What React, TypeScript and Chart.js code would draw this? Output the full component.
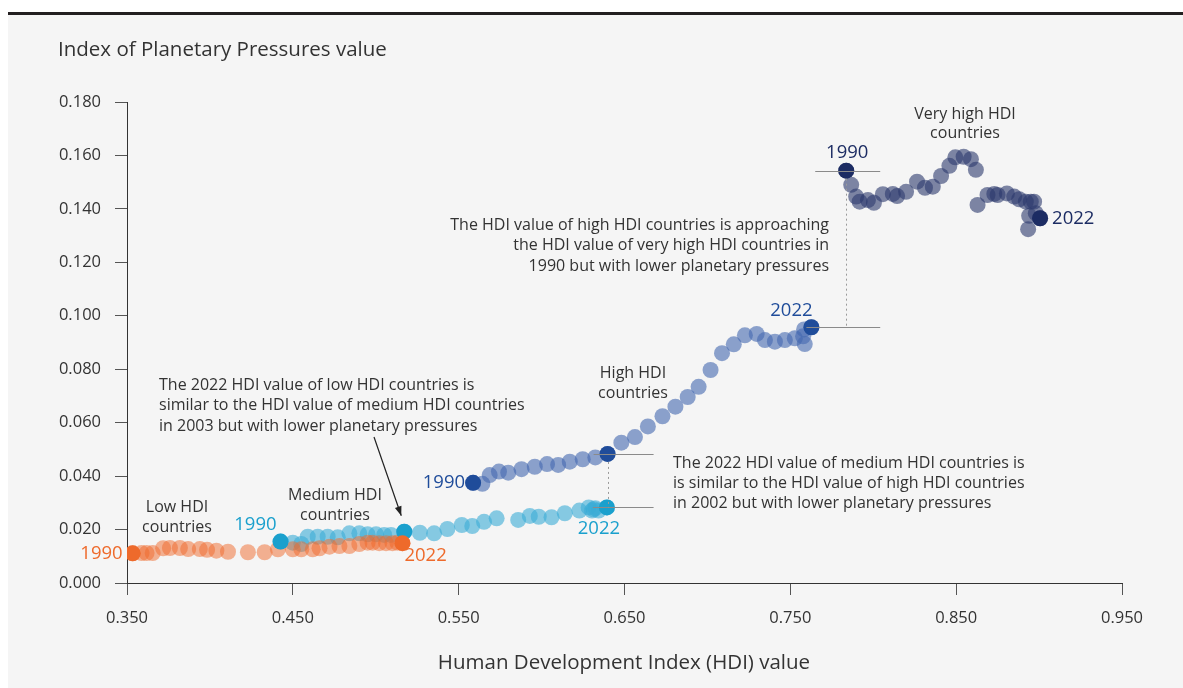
import React, { useEffect, useRef } from "react";
import { Chart, registerables } from "chart.js";

Chart.register(...registerables);

// ---------- Data (HDI value, Index of Planetary Pressures value), 1990 -> 2022 ----------
const lowHdi = [0.3534, 0.3588, 0.3618, 0.3655, 0.3718, 0.3759, 0.3819, 0.3869, 0.3939, 0.3983, 0.4039, 0.4109, 0.4229, 0.4330, 0.4410, 0.4500, 0.4551, 0.4620, 0.4661, 0.4721, 0.4781, 0.4841, 0.4901, 0.4951, 0.4981, 0.5021, 0.5062, 0.5101, 0.5131, 0.5161];
const lowIpp = [0.0111, 0.0112, 0.0112, 0.0112, 0.0130, 0.0131, 0.0131, 0.0127, 0.0127, 0.0124, 0.0121, 0.0117, 0.0115, 0.0115, 0.0126, 0.0126, 0.0126, 0.0126, 0.0130, 0.0136, 0.0138, 0.0138, 0.0146, 0.0151, 0.0151, 0.0149, 0.0149, 0.0149, 0.0151, 0.0149];

const mediumHdi = [0.4426, 0.4500, 0.4551, 0.4590, 0.4650, 0.4710, 0.4771, 0.4841, 0.4901, 0.4951, 0.5002, 0.5051, 0.5092, 0.5172, 0.5266, 0.5352, 0.5432, 0.5519, 0.5582, 0.5653, 0.5729, 0.5859, 0.5929, 0.5983, 0.6060, 0.6140, 0.6228, 0.6284, 0.6304, 0.6324, 0.6344, 0.6314, 0.6394];
const mediumIpp = [0.0155, 0.0151, 0.0146, 0.0173, 0.0173, 0.0173, 0.0171, 0.0186, 0.0186, 0.0182, 0.0182, 0.0180, 0.0180, 0.0192, 0.0188, 0.0186, 0.0202, 0.0217, 0.0213, 0.0229, 0.0242, 0.0236, 0.0251, 0.0248, 0.0246, 0.0261, 0.0271, 0.0283, 0.0271, 0.0280, 0.0271, 0.0276, 0.0283];

const highHdi = [0.5587, 0.5643, 0.5687, 0.5743, 0.5799, 0.5879, 0.5959, 0.6033, 0.6100, 0.6170, 0.6248, 0.6324, 0.6398, 0.6481, 0.6563, 0.6641, 0.6729, 0.6807, 0.6881, 0.6947, 0.7019, 0.7088, 0.7159, 0.7226, 0.7297, 0.7347, 0.7407, 0.7467, 0.7527, 0.7577, 0.7587, 0.7583, 0.7627];
const highIpp = [0.0375, 0.0371, 0.0404, 0.0417, 0.0413, 0.0426, 0.0435, 0.0445, 0.0442, 0.0454, 0.0463, 0.0470, 0.0483, 0.0525, 0.0546, 0.0586, 0.0624, 0.0660, 0.0696, 0.0734, 0.0797, 0.0860, 0.0893, 0.0927, 0.0932, 0.0909, 0.0903, 0.0909, 0.0916, 0.0923, 0.0894, 0.0949, 0.0957];

const veryHighHdi = [0.7837, 0.7867, 0.7897, 0.7918, 0.7968, 0.8004, 0.8058, 0.8118, 0.8144, 0.8198, 0.8264, 0.8312, 0.8359, 0.8409, 0.8459, 0.8495, 0.8545, 0.8589, 0.8619, 0.8629, 0.8689, 0.8730, 0.8750, 0.8806, 0.8850, 0.8880, 0.8920, 0.8950, 0.8970, 0.8940, 0.8980, 0.8934, 0.9006];
const veryHighIpp = [0.1543, 0.1490, 0.1446, 0.1427, 0.1433, 0.1423, 0.1455, 0.1456, 0.1448, 0.1464, 0.1502, 0.1479, 0.1483, 0.1523, 0.1561, 0.1593, 0.1595, 0.1586, 0.1546, 0.1415, 0.1452, 0.1456, 0.1452, 0.1458, 0.1446, 0.1436, 0.1427, 0.1427, 0.1427, 0.1374, 0.1384, 0.1324, 0.1365];

const xTicks = [0.35, 0.45, 0.55, 0.65, 0.75, 0.85, 0.95];
const yTicks = [0, 0.02, 0.04, 0.06, 0.08, 0.1, 0.12, 0.14, 0.16, 0.18];

const yearStart = "1990";
const yearEnd = "2022";
const mediumRefIndex = 13; // 2003
const highRefIndex = 12; // 2002

const groupLabels = [
  ["Low HDI", "countries"],
  ["Medium HDI", "countries"],
  ["High HDI", "countries"],
  ["Very high HDI", "countries"],
];
const noteVeryHigh = [
  "The HDI value of high HDI countries is approaching",
  "the HDI value of very high HDI countries in",
  "1990 but with lower planetary pressures",
];
const noteLow = [
  "The 2022 HDI value of low HDI countries is",
  "similar to the HDI value of medium HDI countries",
  "in 2003 but with lower planetary pressures",
];
const noteMedium = [
  "The 2022 HDI value of medium HDI countries is",
  "is similar to the HDI value of high HDI countries",
  "in 2002 but with lower planetary pressures",
];
const xTitle = "Human Development Index (HDI) value";
const yTitle = "Index of Planetary Pressures value";

// ---------- Styles ----------
const FONT = "'Open Sans', Lato, sans-serif";
const TEXT = "#333333";
const C = {
  low: { faded: "rgba(239,106,43,0.5)", solid: "#ee6a2b" },
  medium: { faded: "rgba(58,172,213,0.6)", solid: "#1aa0cd" },
  high: { faded: "rgba(67,103,175,0.6)", solid: "#1f4c9a" },
  veryHigh: { faded: "rgba(43,57,108,0.6)", solid: "#1c2c63" },
};

const pts = (xs: number[], ys: number[]) => xs.map((x, i) => ({ x, y: ys[i] }));
const pick = (xs: number[], ys: number[], idx: number[]) => idx.map((i) => ({ x: xs[i], y: ys[i] }));

const annotationPlugin = {
  id: "annotations",
  afterDatasetsDraw(chart: any) {
    const { ctx } = chart;
    const sx = chart.scales.x;
    const sy = chart.scales.y;
    const P = (xs: number[], ys: number[], i: number) => ({
      x: sx.getPixelForValue(xs[i]),
      y: sy.getPixelForValue(ys[i]),
    });
    const lowS = P(lowHdi, lowIpp, 0);
    const lowE = P(lowHdi, lowIpp, lowHdi.length - 1);
    const medS = P(mediumHdi, mediumIpp, 0);
    const medR = P(mediumHdi, mediumIpp, mediumRefIndex);
    const medE = P(mediumHdi, mediumIpp, mediumHdi.length - 1);
    const hiS = P(highHdi, highIpp, 0);
    const hiR = P(highHdi, highIpp, highRefIndex);
    const hiE = P(highHdi, highIpp, highHdi.length - 1);
    const vhS = P(veryHighHdi, veryHighIpp, 0);
    const vhE = P(veryHighHdi, veryHighIpp, veryHighHdi.length - 1);

    ctx.save();
    // connector lines
    ctx.strokeStyle = "#8a8a8a";
    ctx.lineWidth = 1;
    const hline = (x1: number, x2: number, y: number) => {
      ctx.beginPath();
      ctx.moveTo(x1, Math.round(y) + 0.5);
      ctx.lineTo(x2, Math.round(y) + 0.5);
      ctx.stroke();
    };
    const vdot = (x: number, y1: number, y2: number) => {
      ctx.save();
      ctx.setLineDash([2, 3]);
      ctx.strokeStyle = "#9a9a9a";
      ctx.beginPath();
      ctx.moveTo(Math.round(x) + 0.5, y1 + 8);
      ctx.lineTo(Math.round(x) + 0.5, y2);
      ctx.stroke();
      ctx.restore();
    };
    hline(vhS.x - 31, vhS.x + 34, vhS.y);
    hline(hiE.x - 5, vhS.x + 34, hiE.y);
    vdot(vhS.x, vhS.y, hiE.y);
    hline(hiR.x - 14, hiR.x + 46, hiR.y);
    hline(medE.x - 14, hiR.x + 46, medE.y);
    vdot(hiR.x, hiR.y, medE.y);

    // arrow to medium 2003
    const ax1 = 374, ay1 = 437;
    const ax2 = medR.x - 3, ay2 = medR.y - 16;
    ctx.strokeStyle = "#222";
    ctx.fillStyle = "#222";
    ctx.lineWidth = 1.2;
    ctx.beginPath();
    ctx.moveTo(ax1, ay1);
    ctx.lineTo(ax2, ay2);
    ctx.stroke();
    const ang = Math.atan2(ay2 - ay1, ax2 - ax1);
    ctx.beginPath();
    ctx.moveTo(ax2, ay2);
    ctx.lineTo(ax2 - 10 * Math.cos(ang - 0.35), ay2 - 10 * Math.sin(ang - 0.35));
    ctx.lineTo(ax2 - 10 * Math.cos(ang + 0.35), ay2 - 10 * Math.sin(ang + 0.35));
    ctx.closePath();
    ctx.fill();

    // year labels
    ctx.textBaseline = "middle";
    const label = (t: string, x: number, y: number, color: string, align: CanvasTextAlign) => {
      ctx.fillStyle = color;
      ctx.textAlign = align;
      ctx.font = `18.5px ${FONT}`;
      ctx.fillText(t, x, y);
    };
    label(yearStart, lowS.x - 10, lowS.y, C.low.solid, "right");
    label(yearEnd, lowE.x + 2, lowE.y + 13, C.low.solid, "left");
    label(yearStart, medS.x - 4, medS.y - 17, C.medium.solid, "right");
    label(yearEnd, medE.x - 8, medE.y + 21, C.medium.solid, "center");
    label(yearStart, hiS.x - 8, hiS.y, C.high.solid, "right");
    label(yearEnd, hiE.x - 20, hiE.y - 17, C.high.solid, "center");
    label(yearStart, vhS.x + 1, vhS.y - 18, C.veryHigh.solid, "center");
    label(yearEnd, vhE.x + 12, vhE.y, C.veryHigh.solid, "left");

    // group labels
    const block = (lines: string[], x: number, y: number, lh: number, align: CanvasTextAlign, font: string) => {
      ctx.fillStyle = TEXT;
      ctx.textAlign = align;
      ctx.font = font;
      lines.forEach((l, i) => ctx.fillText(l, x, y + i * lh));
    };
    const gFont = `500 16px ${FONT}`;
    block(groupLabels[0], 177, 507, 20, "center", gFont);
    block(groupLabels[1], 335, 495, 20, "center", gFont);
    block(groupLabels[2], 633, 373, 20, "center", gFont);
    block(groupLabels[3], 965, 114, 19.5, "center", gFont);

    const nFont = `16px ${FONT}`;
    block(noteVeryHigh, 829, 225, 20.5, "right", nFont);
    block(noteLow, 159, 385, 20.5, "left", nFont);
    block(noteMedium, 673, 463, 20, "left", nFont);

    // axis titles
    ctx.font = `20.5px ${FONT}`;
    ctx.fillStyle = TEXT;
    ctx.textAlign = "left";
    ctx.fillText(yTitle, 58, 50);
    ctx.textAlign = "center";
    ctx.fillText(xTitle, 624, 663);
    ctx.restore();
  },
};

export default function App() {
  const canvasRef = useRef<HTMLCanvasElement | null>(null);

  useEffect(() => {
    if (!canvasRef.current) return;
    const n = (a: number[]) => a.length - 1;
    const chart = new Chart(canvasRef.current, {
      type: "scatter",
      data: {
        datasets: [
          {
            label: "Highlights low",
            data: pick(lowHdi, lowIpp, [0, n(lowHdi)]),
            backgroundColor: C.low.solid,
          },
          {
            label: "Highlights medium",
            data: pick(mediumHdi, mediumIpp, [0, mediumRefIndex, n(mediumHdi)]),
            backgroundColor: C.medium.solid,
          },
          {
            label: "Highlights high",
            data: pick(highHdi, highIpp, [0, highRefIndex, n(highHdi)]),
            backgroundColor: C.high.solid,
          },
          {
            label: "Highlights very high",
            data: pick(veryHighHdi, veryHighIpp, [0, n(veryHighHdi)]),
            backgroundColor: C.veryHigh.solid,
          },
          { label: "Low HDI countries", data: pts(lowHdi, lowIpp), backgroundColor: C.low.faded },
          { label: "Medium HDI countries", data: pts(mediumHdi, mediumIpp), backgroundColor: C.medium.faded },
          { label: "High HDI countries", data: pts(highHdi, highIpp), backgroundColor: C.high.faded },
          { label: "Very high HDI countries", data: pts(veryHighHdi, veryHighIpp), backgroundColor: C.veryHigh.faded },
        ].map((d) => ({ ...d, pointRadius: 8, pointHoverRadius: 8, borderWidth: 0, pointBorderWidth: 0 })),
      },
      options: {
        animation: false,
        responsive: false,
        devicePixelRatio: 1,
        events: [],
        layout: { padding: { left: 0, right: 61, top: 102, bottom: 0 } },
        plugins: { legend: { display: false }, tooltip: { enabled: false }, title: { display: false } },
        scales: {
          x: {
            type: "linear",
            min: 0.35,
            max: 0.95,
            afterBuildTicks: (s: any) => {
              s.ticks = xTicks.map((v) => ({ value: v }));
            },
            afterFit: (s: any) => {
              s.height = 105;
            },
            ticks: {
              callback: (v: any) => Number(v).toFixed(3),
              color: TEXT,
              font: { family: FONT, size: 16.5 },
              padding: 13,
              maxRotation: 0,
            },
            grid: { drawOnChartArea: false, drawTicks: true, tickLength: 12, color: "#555", tickWidth: 1 },
            border: { display: true, color: "#333", width: 1 },
          },
          y: {
            type: "linear",
            min: 0,
            max: 0.18,
            afterBuildTicks: (s: any) => {
              s.ticks = yTicks.map((v) => ({ value: v }));
            },
            afterFit: (s: any) => {
              s.width = 127;
            },
            ticks: {
              callback: (v: any) => Number(v).toFixed(3),
              color: TEXT,
              font: { family: FONT, size: 16.5 },
              padding: 14,
            },
            grid: { drawOnChartArea: false, drawTicks: true, tickLength: 12, color: "#555", tickWidth: 1 },
            border: { display: true, color: "#333", width: 1 },
          },
        },
      },
      plugins: [annotationPlugin],
    } as any);
    return () => chart.destroy();
  }, []);

  return (
    <div style={{ position: "absolute", left: 0, top: 0, width: 1183, height: 688, background: "#fff", overflow: "hidden" }}>
      <div style={{ position: "absolute", left: 8, right: 0, top: 12, height: 3, background: "#231f20" }} />
      <div style={{ position: "absolute", left: 8, right: 0, top: 15, bottom: 0, background: "#f5f5f5" }} />
      <canvas ref={canvasRef} width={1183} height={688} style={{ position: "absolute", left: 0, top: 0, width: 1183, height: 688 }} />
    </div>
  );
}
